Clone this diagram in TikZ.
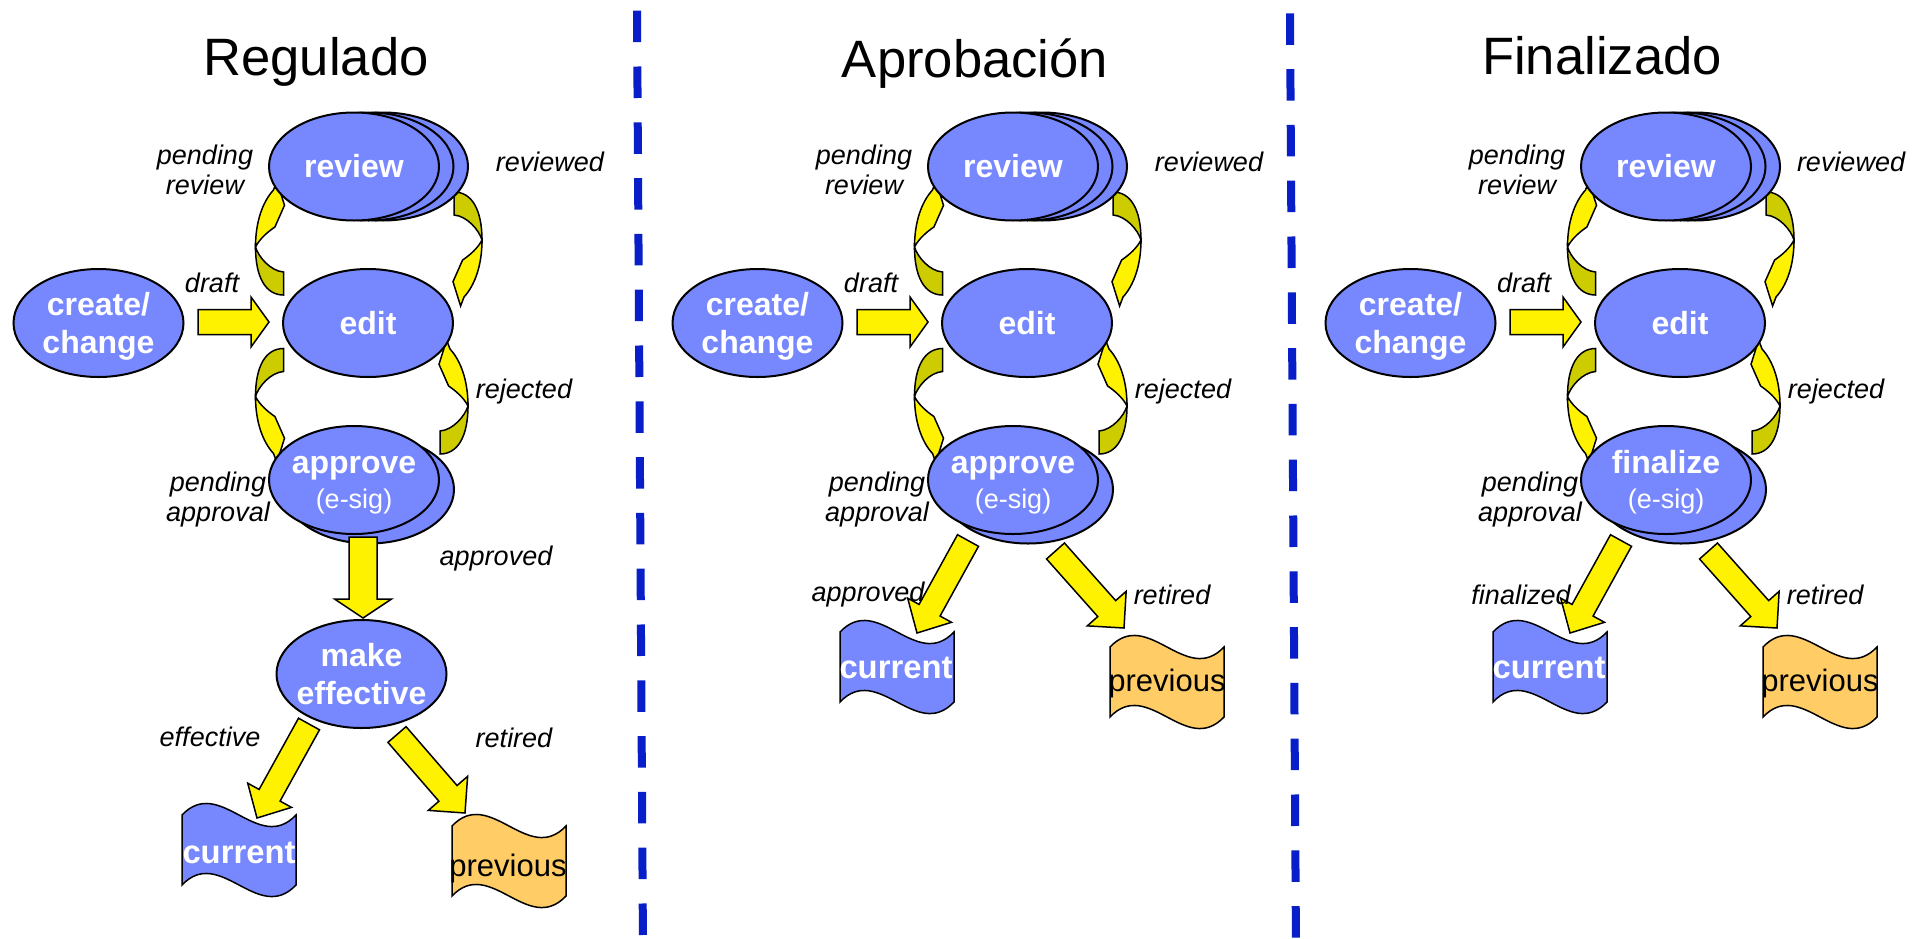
\documentclass[tikz,border=0pt]{standalone}
\usepackage{fontspec}
\setmainfont{Liberation Sans}
\usetikzlibrary{shapes.geometric,calc}
\definecolor{stageblue}{RGB}{119,136,255}
\definecolor{oldpaper}{RGB}{255,204,102}
\definecolor{darkyellow}{RGB}{204,204,0}
\definecolor{divblue}{RGB}{8,30,200}
\tikzset{
  stage/.style={ellipse,draw=black,line width=1pt,fill=stageblue,minimum width=85pt,
    minimum height=54pt,inner xsep=-8pt,inner ysep=-2pt,text=white,align=center,
    font=\bfseries\fontsize{16}{19}\selectfont},
  lbl/.style={font=\itshape\fontsize{13.5}{15}\selectfont,align=center},
  ttl/.style={anchor=base,font=\fontsize{26.3}{30}\selectfont},
  curtext/.style={text=white,font=\bfseries\fontsize{16.4}{19}\selectfont},
  prevtext/.style={font=\fontsize{15.5}{18}\selectfont},
  fat/.style={fill=yellow,draw=black,line width=0.75pt},
  bendfront/.style={fill=yellow,draw=black,line width=0.75pt},
  bendback/.style={fill=darkyellow,draw=black,line width=0.75pt},
  flag/.style={draw=black,line width=0.75pt},
  divider/.style={divblue,line width=4pt,dash pattern=on 15.75pt off 12.15pt}
}
% block arrow: tail, tip, half shaft, half head, head length
\newcommand\fatarrow[5]{%
  \coordinate (fa) at ($(#2)!#5!(#1)$);
  \filldraw[fat] ($(#1)!#3!90:(#2)$) -- ($(fa)!#3!90:(#2)$) -- ($(fa)!#4!90:(#2)$) -- (#2)
    -- ($(fa)!#4!-90:(#2)$) -- ($(fa)!#3!-90:(#2)$) -- ($(#1)!#3!-90:(#2)$) -- cycle;}
% twisted curved arrow, drawn as for the upper left place
\newcommand\bendarrow[1]{%
  \begin{scope}[#1]
  \filldraw[bendback] (0,25) -- (0,48) .. controls (-18,48) and (-28,30) .. (-28,0)
    .. controls (-25,10) and (-13,24) .. (0,25) -- cycle;
  \filldraw[bendfront] (-28,0) .. controls (-28,-25) and (-21,-45) .. (-10,-57) -- (-6.6,-66)
    -- (1,-41.7) -- (-8.6,-20) .. controls (-16,-15) and (-24,-8) .. (-28,0) -- cycle;
  \end{scope}}
% wavy sheet, top left corner
\newcommand\sheet[2]{%
  \filldraw[flag,fill=#2,shift={(#1)}] (0,0) .. controls (38,-40) and (76,40) .. (114,0)
    -- (114,70) .. controls (76,110) and (38,30) .. (0,70) -- cycle;}
\begin{document}
\begin{tikzpicture}[x=0.5pt,y=-0.5pt]
\useasboundingbox (0,0) rectangle (1921,938);
\draw[divider] (637,10.7) -- (643,950);
\draw[divider] (1290,13.3) -- (1296,950);
\node[ttl] (t1) at (316,75) {Regulado};
\node[ttl] (t2) at (975,77) {Aprobación};
\node[ttl] (t3) at (1602,74) {Finalizado};
% the part that all three share
\foreach \i/\dx/\act/\rv in {1/0/approve/550,2/659/approve/550,3/1312/finalize/539}{
\begin{scope}[shift={(\dx,0)}]
\bendarrow{shift={(283.5,247)}}
\bendarrow{shift={(454,240)},xscale=-1,yscale=-1}
\bendarrow{shift={(283.5,396.5)},yscale=-1}
\bendarrow{shift={(440,406)},xscale=-1}
\node[stage] (revc\i) at (383,166.5) {};
\node[stage] (revb\i) at (368.5,166.5) {};
\node[stage] (rev\i) at (354,166.5) {review};
\node[stage] (edit\i) at (368,323) {edit};
\node[stage] (new\i) at (98.5,323) {\rule{0pt}{15pt}create/\\change};
\node[stage] (okb\i) at (369,489.5) {};
\node[stage] (ok\i) at (354,480) {\strut\act\\[-1.5pt]{\mdseries\fontsize{13.5}{16}\selectfont(e-sig)}};
\coordinate (da\i) at (198,322);
\coordinate (db\i) at (269,322);
\fatarrow{da\i}{db\i}{6.25pt}{12.5pt}{9pt}
\node[lbl] (pr\i) at (205,170) {pending\\review};
\node[lbl] (rd\i) at (\rv,162) {reviewed};
\node[lbl] (df\i) at (212,283) {draft};
\node[lbl] (rj\i) at (524,392) {rejected};
\node[lbl] (pa\i) at (218,500) {pending\\approval};
\end{scope}}
% Regulado: make effective step
\coordinate (dna) at (363,537);
\coordinate (dnb) at (363,618);
\fatarrow{dna}{dnb}{7pt}{14.25pt}{9.5pt}
\node[stage] (eff1) at (361.5,674) {make\\effective};
\sheet{182,815}{stageblue}
\sheet{452,826}{oldpaper}
\coordinate (cua1) at (309,724);
\coordinate (cub1) at (257,818);
\coordinate (pra1) at (397,734.5);
\coordinate (prb1) at (465,813);
\fatarrow{cua1}{cub1}{6pt}{12.5pt}{13pt}
\fatarrow{pra1}{prb1}{6pt}{13pt}{13pt}
\node[curtext] (cur1) at (239,853) {current};
\node[prevtext] (prev1) at (508,868) {previous};
\node[lbl] (ap1) at (496,559) {approved};
\node[lbl] (ef1) at (210,737) {effective};
\node[lbl] (rt1) at (514,738) {retired};
% Aprobación and Finalizado go straight to the sheets
\foreach \i/\dx/\lab in {2/0/approved,3/653/finalized}{
\begin{scope}[shift={(\dx,0)}]
\sheet{840,632}{stageblue}
\sheet{1110,647}{oldpaper}
\coordinate (cua\i) at (968,540.5);
\coordinate (cub\i) at (917,633);
\coordinate (pra\i) at (1055.5,551);
\coordinate (prb\i) at (1124,628);
\fatarrow{cua\i}{cub\i}{6pt}{12.5pt}{13pt}
\fatarrow{pra\i}{prb\i}{6pt}{13pt}{13pt}
\node[curtext] (cur\i) at (896,668) {current};
\node[prevtext] (prev\i) at (1167,683) {previous};
\node[lbl] (ap\i) at (868,595) {\lab};
\node[lbl] (rt\i) at (1172,595) {retired};
\end{scope}}
\end{tikzpicture}
\end{document}
